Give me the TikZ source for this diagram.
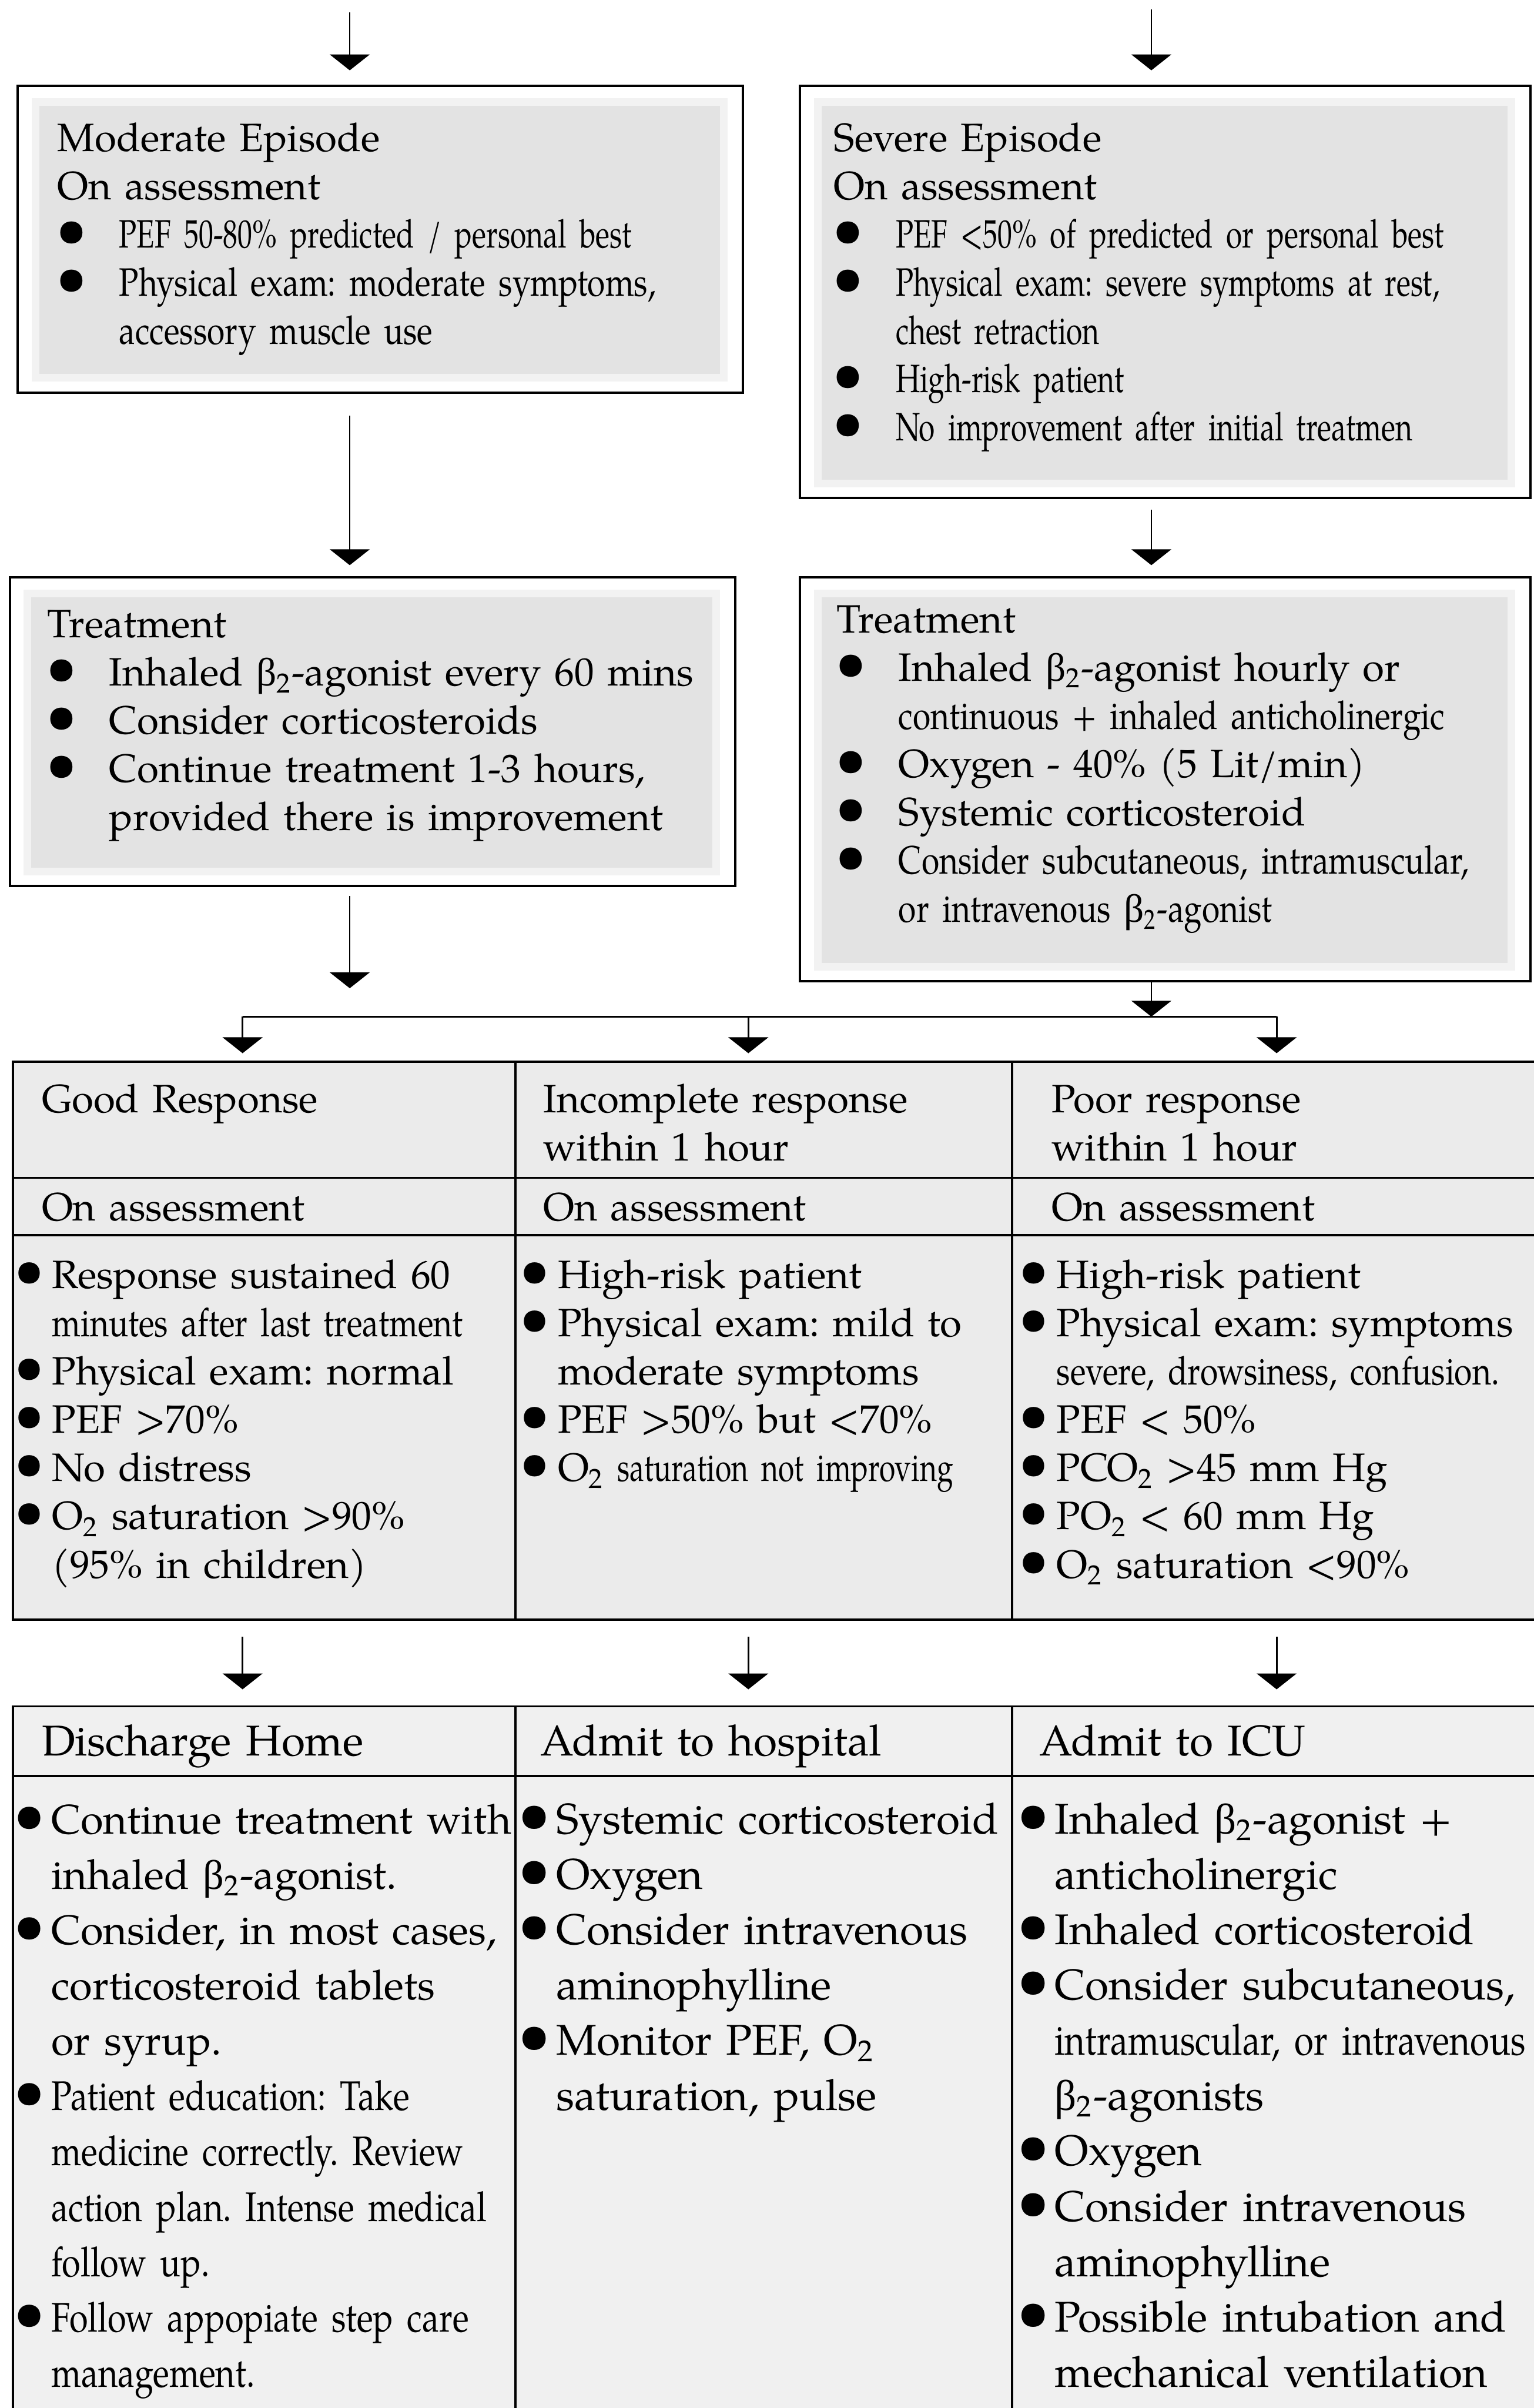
\documentclass[tikz,border=0pt]{standalone}
\usepackage{graphicx}
\usepackage{fontspec}
\setmainfont{texgyrepagella-regular.otf}
\newfontfamily\cnd{texgyrepagella-regular.otf}[FakeStretch=0.82]
\newfontfamily\cndd{texgyrepagella-regular.otf}[FakeStretch=0.74]
\newfontfamily\grk{Liberation Serif}
\usetikzlibrary{positioning,arrows.meta}
\frenchspacing

\newcommand{\bt}{{\grk β}\textsubscript{2}}
\newcommand{\Ot}{O\textsubscript{2}}
\newcommand{\bdot}{\raisebox{0.4pt}{\scalebox{1.4}{\textbullet}}}
\newcommand{\bb}{\makebox[20.6pt][l]{\hspace*{-0.4pt}\bdot}}
\newcommand{\hb}{\hspace*{20.6pt}}
\newcommand{\tb}{\makebox[10pt][l]{\hspace*{-2.6pt}\raisebox{0.6pt}{\scalebox{1.35}{\textbullet}}}}
\newcommand{\tin}{\hspace*{10pt}}

\tikzset{
  box/.style={draw,line width=0.75pt,inner sep=0pt,outer sep=0pt,anchor=north west},
  cell/.style={draw,line width=0.75pt,inner sep=0pt,outer sep=0pt},
  tabA/.style={cell,fill=black!8},
  tabB/.style={cell,fill=black!6},
  txt/.style={anchor=base west,inner sep=0pt,align=left,text width=9cm,
    font={\fontsize{13.2}{16.1}\selectfont}},
  txtb/.style={txt,font={\fontsize{14.35}{18.46}\selectfont}},
  txtc/.style={txt,font={\fontsize{13.8}{18.46}\selectfont}},
  arr/.style={-{Triangle[width=13.3pt,length=5.3pt]},line width=0.55pt}
}

\begin{document}
\begin{tikzpicture}[x=0.018cm,y=-0.018cm]
  \useasboundingbox (0,0) rectangle (999,1568);

  % episode and treatment boxes
  \node[box,minimum width=8.505cm,minimum height=3.598cm] (mod) at (11.5,55.8) {};
  \node[box,minimum width=8.568cm,minimum height=4.835cm] (sev) at (521,55.8) {};
  \node[box,minimum width=8.507cm,minimum height=3.622cm] (mtr) at (6.4,375.8) {};
  \node[box,minimum width=8.568cm,minimum height=4.738cm] (str) at (521,375.8) {};

  \foreach \b in {mod,sev,mtr,str}{
    \fill[black!5] ([shift={(9,8)}]\b.north west) rectangle ([shift={(-10,-7)}]\b.south east);
    \fill[black!11] ([shift={(14,13)}]\b.north west) rectangle ([shift={(-15,-12)}]\b.south east);
  }

  \node[txt] (modtx) at ([shift={(25.5,42.6)}]mod.north west)
    {Moderate Episode\\On assessment\\
     \bb{\cndd PEF 50-80\% predicted / personal best}\\
     \bb{\cnd Physical exam: moderate symptoms,}\\
     \hb{\cnd accessory muscle use}};
  \node[txt] (sevtx) at ([shift={(21.8,42.6)}]sev.north west)
    {Severe Episode\\On assessment\\
     \bb{\cndd PEF <50\% of predicted or personal best}\\
     \bb{\cndd Physical exam: severe symptoms at rest,}\\
     \hb{\cndd chest retraction}\\
     \bb{\cndd High-risk patient}\\
     \bb{\cndd No improvement after initial treatmen}};
  \node[txt] (mtrtx) at ([shift={(24.2,39.4)}]mtr.north west)
    {Treatment\\
     \bb Inhaled \bt-agonist every 60 mins\\
     \bb Consider corticosteroids\\
     \bb Continue treatment 1-3 hours,\\
     \hb provided there is improvement};
  \node[txt] (strtx) at ([shift={(23.7,36.2)}]str.north west)
    {Treatment\\
     \bb Inhaled \bt-agonist hourly or\\
     \hb{\cnd continuous + inhaled anticholinergic}\\
     \bb Oxygen - 40\% (5 Lit/min)\\
     \bb Systemic corticosteroid\\
     \bb{\cnd Consider subcutaneous, intramuscular,}\\
     \hb{\cnd or intravenous \bt-agonist}};

  % response table
  \node[tabA,minimum width=5.895cm,minimum height=1.364cm,anchor=north west] (resp1) at (8.3,691.2) {};
  \node[tabA,minimum width=5.825cm,minimum height=1.364cm,right=0pt of resp1] (resp2) {};
  \node[tabA,minimum width=6.149cm,minimum height=1.364cm,right=0pt of resp2] (resp3) {};
  \node[tabA,minimum width=5.895cm,minimum height=0.673cm,below=0pt of resp1] (asm1) {};
  \node[tabA,minimum width=5.825cm,minimum height=0.673cm,below=0pt of resp2] (asm2) {};
  \node[tabA,minimum width=6.149cm,minimum height=0.673cm,below=0pt of resp3] (asm3) {};
  \node[tabA,minimum width=5.895cm,minimum height=4.507cm,below=0pt of asm1] (sym1) {};
  \node[tabA,minimum width=5.825cm,minimum height=4.507cm,below=0pt of asm2] (sym2) {};
  \node[tabA,minimum width=6.149cm,minimum height=4.507cm,below=0pt of asm3] (sym3) {};

  \node[txt] (resp1t) at ([shift={(18.5,33.2)}]resp1.north west) {Good Response};
  \node[txt] (resp2t) at ([shift={(17.8,33.2)}]resp2.north west) {Incomplete response\\within 1 hour};
  \node[txt] (resp3t) at ([shift={(25.5,33.2)}]resp3.north west) {Poor response\\within 1 hour};
  \node[txt] (asm1t) at ([shift={(18.5,28)}]asm1.north west) {On assessment};
  \node[txt] (asm2t) at ([shift={(17.8,28)}]asm2.north west) {On assessment};
  \node[txt] (asm3t) at ([shift={(25.5,28)}]asm3.north west) {On assessment};

  \node[txt] (sym1t) at ([shift={(5.7,34.6)}]sym1.north west)
    {\tb Response sustained 60\\
     \tin{\cnd minutes after last treatment}\\
     \tb Physical exam: normal\\
     \tb PEF >70\%\\
     \tb No distress\\
     \tb \Ot{} saturation >90\%\\
     \tin(95\% in children)};
  \node[txt] (sym2t) at ([shift={(7.7,34.6)}]sym2.north west)
    {\tb High-risk patient\\
     \tb Physical exam: mild to\\
     \tin moderate symptoms\\
     \tb PEF >50\% but <70\%\\
     \tb \Ot{} {\cndd saturation not improving}};
  \node[txt] (sym3t) at ([shift={(9.1,34.6)}]sym3.north west)
    {\tb High-risk patient\\
     \tb Physical exam: symptoms\\
     \tin{\cnd severe, drowsiness, confusion.}\\
     \tb PEF < 50\%\\
     \tb PCO\textsubscript{2} >45 mm Hg\\
     \tb PO\textsubscript{2} < 60 mm Hg\\
     \tb \Ot{} saturation <90\%};

  % outcome table
  \node[tabB,minimum width=5.895cm,minimum height=0.814cm,below=1.017cm of sym1] (out1) {};
  \node[tabB,minimum width=5.825cm,minimum height=0.814cm,right=0pt of out1] (out2) {};
  \node[tabB,minimum width=6.149cm,minimum height=0.814cm,right=0pt of out2] (out3) {};
  \node[tabB,minimum width=5.895cm,minimum height=7.623cm,below=0pt of out1] (act1) {};
  \node[tabB,minimum width=5.825cm,minimum height=7.623cm,below=0pt of out2] (act2) {};
  \node[tabB,minimum width=6.149cm,minimum height=7.623cm,below=0pt of out3] (act3) {};

  \node[txtb] (out1t) at ([shift={(18.5,32.2)}]out1.north west) {Discharge Home};
  \node[txtb] (out2t) at ([shift={(15.9,32.2)}]out2.north west) {Admit to hospital};
  \node[txtb] (out3t) at ([shift={(17.2,32.2)}]out3.north west) {Admit to ICU};

  \node[txtc] (act1t) at ([shift={(5.3,37.7)}]act1.north west)
    {\tb Continue treatment with\\
     \tin inhaled \bt-agonist.\\
     \tb Consider, in most cases,\\
     \tin corticosteroid tablets\\
     \tin or syrup.\\
     \tb{\cnd Patient education: Take}\\
     \tin{\cnd medicine correctly. Review}\\
     \tin{\cnd action plan. Intense medical}\\
     \tin{\cnd follow up.}\\
     \tb{\cnd Follow appopiate step care}\\
     \tin{\cnd management.}};
  \node[txtb] (act2t) at ([shift={(6.6,37.7)}]act2.north west)
    {\tb Systemic corticosteroid\\
     \tb Oxygen\\
     \tb Consider intravenous\\
     \tin aminophylline\\
     \tb Monitor PEF, \Ot\\
     \tin saturation, pulse};
  \node[txtb] (act3t) at ([shift={(7.9,37.7)}]act3.north west)
    {\tb Inhaled \bt-agonist +\\
     \tin anticholinergic\\
     \tb Inhaled corticosteroid\\
     \tb Consider subcutaneous,\\
     \tin{\cnd intramuscular, or intravenous}\\
     \tin\bt-agonists\\
     \tb Oxygen\\
     \tb Consider intravenous\\
     \tin aminophylline\\
     \tb Possible intubation and\\
     \tin mechanical ventilation};

  % connectors
  \coordinate (c1) at (227.8,8);
  \coordinate (c2) at (749.9,6);
  \coordinate (c3) at (227.8,643.5);
  \coordinate (br1) at (158,662);
  \coordinate (br2) at (487.4,662);
  \coordinate (br3) at (831.5,662);

  \draw[arr,shorten >=0.18cm] (c1) -- (c1 |- mod.north);
  \draw[arr,shorten >=0.18cm] (c2) -- (c2 |- sev.north);
  \draw[arr,shorten <=0.27cm,shorten >=0.14cm] (c1 |- mod.south) -- (c1 |- mtr.north);
  \draw[arr,shorten <=0.135cm,shorten >=0.14cm] (c2 |- sev.south) -- (c2 |- str.north);
  \draw[arr,shorten <=0.117cm] (c1 |- mtr.south) -- (c3);
  \draw[arr] (c2 |- str.south) -- (c2 |- br1);
  \draw[line width=0.55pt] (br1) -- (br3);
  \foreach \i in {1,2,3}{
    \draw[arr,shorten >=0.097cm] (br\i) -- (br\i |- resp1.north);
    \draw[arr,shorten <=0.2cm,shorten >=0.2cm] (br\i |- sym1.south) -- (br\i |- out1.north);
  }
\end{tikzpicture}
\end{document}
